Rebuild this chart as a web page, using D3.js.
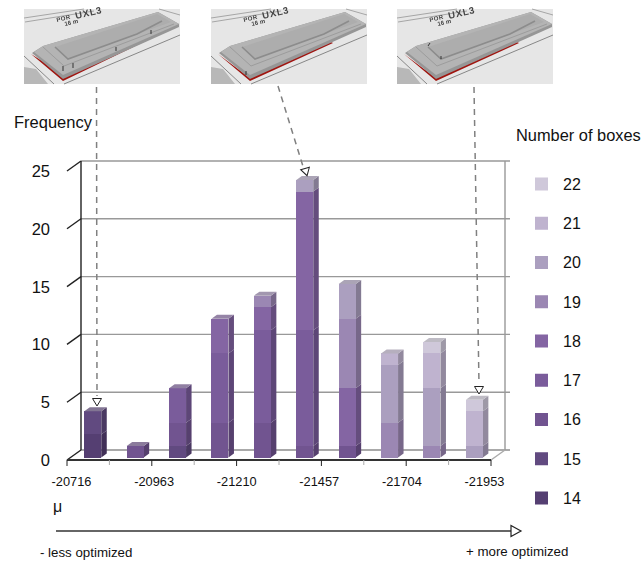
<!DOCTYPE html>
<html>
<head>
<meta charset="utf-8">
<script src="https://cdn.jsdelivr.net/npm/d3@7"></script>
<style>
  html, body { margin: 0; padding: 0; background: #fff; }
  text { font-family: "Liberation Sans", Arial, sans-serif; fill: #111; }
</style>
</head>
<body>
<svg id="chart" width="642" height="561"></svg>
<script>
// bins along the x axis, only every second one is labelled
const bins = d3.range(10);
const binLabels = ['-20716', '-20963', '-21210', '-21457', '-21704', '-21953'];
const freqTicks = [0, 5, 10, 15, 20, 25];
const boxCounts = [14, 15, 16, 17, 18, 19, 20, 21, 22];

// frequency per bin, one array per number of boxes
const box14 = [2, 0, 0, 0, 0, 0, 0, 0, 0, 0];
const box15 = [2, 0, 1, 0, 0, 0, 0, 0, 0, 0];
const box16 = [0, 1, 2, 3, 3, 1, 1, 0, 0, 0];
const box17 = [0, 0, 3, 6, 8, 10, 0, 0, 0, 0];
const box18 = [0, 0, 0, 3, 2, 12, 5, 0, 0, 0];
const box19 = [0, 0, 0, 0, 1, 0, 6, 3, 1, 0];
const box20 = [0, 0, 0, 0, 0, 1, 3, 5, 5, 1];
const box21 = [0, 0, 0, 0, 0, 0, 0, 1, 3, 3];
const box22 = [0, 0, 0, 0, 0, 0, 0, 0, 1, 1];
const boxSeries = [box14, box15, box16, box17, box18, box19, box20, box21, box22];

const boxColors = ['#553f72', '#614a80', '#715490', '#7a5c9b', '#8465a3', '#9b87b3', '#ab9fbf', '#bfb3cf', '#cfc8da'];

const svg = d3.select('#chart');
const color = d3.scaleOrdinal().domain(boxCounts).range(boxColors);

// 3d chart geometry: front plane, back wall and bar depth
const axisY = 460;
const wall = {dx: 14, dy: -10};
const barDepth = {dx: 5.5, dy: -4};

const x = d3.scaleBand().domain(bins).range([67, 491]).paddingInner(0.6).paddingOuter(0.3).align(0.68);
const yBack = d3.scaleLinear().domain([0, 25]).range([450, 161]);
const yBar = d3.scaleLinear().domain([0, 25]).range([457.5, 168.5]);

// walls and gridlines
const grid = svg.append('g');
grid.selectAll('line.grid')
  .data(freqTicks)
  .join('line')
    .attr('class', 'grid')
    .attr('x1', 67 + wall.dx)
    .attr('x2', 491 + wall.dx + 5)
    .attr('y1', d => yBack(d))
    .attr('y2', d => yBack(d))
    .attr('stroke', d => d === 0 ? '#aaa' : '#999')
    .attr('stroke-width', d => d === 0 ? 2 : 1.4);
grid.append('line')
  .attr('x1', 491 + wall.dx).attr('x2', 491 + wall.dx)
  .attr('y1', yBack(25)).attr('y2', yBack(0))
  .attr('stroke', '#999').attr('stroke-width', 1.4);
grid.append('line')
  .attr('x1', 491 + wall.dx).attr('x2', 491)
  .attr('y1', yBack(0)).attr('y2', axisY)
  .attr('stroke', '#aaa').attr('stroke-width', 1.4);

// frequency axis, ticks run diagonally to the back wall
grid.append('line')
  .attr('x1', 67 + wall.dx).attr('x2', 67 + wall.dx)
  .attr('y1', yBack(25)).attr('y2', yBack(0))
  .attr('stroke', '#222').attr('stroke-width', 1.4);
grid.selectAll('line.ftick')
  .data(freqTicks)
  .join('line')
    .attr('class', 'ftick')
    .attr('x1', 67).attr('x2', 67 + wall.dx)
    .attr('y1', d => yBack(d) - wall.dy).attr('y2', d => yBack(d))
    .attr('stroke', '#222').attr('stroke-width', 1.4);
grid.selectAll('text.flabel')
  .data(freqTicks)
  .join('text')
    .attr('class', 'flabel')
    .attr('x', 50)
    .attr('y', d => yBack(d) - wall.dy)
    .attr('dy', '0.36em')
    .attr('text-anchor', 'end')
    .style('font-size', '16.5px')
    .text(d => d);

// stacked 3d bars
const stacked = d3.stack().keys(d3.range(boxCounts.length)).value((row, k) => boxSeries[k][row])(bins);

const layers = svg.selectAll('g.layer')
  .data(stacked)
  .join('g')
    .attr('class', 'layer');

const visible = layer => layer.map((d, i) => ({bin: i, y0: d[0], y1: d[1], box: boxCounts[layer.key]})).filter(d => d.y1 > d.y0);

layers.selectAll('path.side')
  .data(visible)
  .join('path')
    .attr('class', 'side')
    .attr('d', d => {
      const xr = x(d.bin) + x.bandwidth();
      return `M${xr},${yBar(d.y0)}L${xr + barDepth.dx},${yBar(d.y0) + barDepth.dy}L${xr + barDepth.dx},${yBar(d.y1) + barDepth.dy}L${xr},${yBar(d.y1)}Z`;
    })
    .attr('fill', d => d3.color(color(d.box)).darker(0.75));

layers.selectAll('rect.front')
  .data(visible)
  .join('rect')
    .attr('class', 'front')
    .attr('x', d => x(d.bin))
    .attr('width', x.bandwidth())
    .attr('y', d => yBar(d.y1))
    .attr('height', d => yBar(d.y0) - yBar(d.y1))
    .attr('shape-rendering', 'crispEdges')
    .attr('fill', d => color(d.box));

// cap on top of every bar
svg.append('g').selectAll('path')
  .data(bins)
  .join('path')
    .attr('d', b => {
      const top = yBar(d3.sum(boxSeries, s => s[b]));
      const xl = x(b), xr = xl + x.bandwidth();
      return `M${xl},${top}L${xl + barDepth.dx},${top + barDepth.dy}L${xr + barDepth.dx},${top + barDepth.dy}L${xr},${top}Z`;
    })
    .attr('fill', b => {
      const topBox = boxSeries.reduce((acc, s, k) => s[b] > 0 ? k : acc, 0);
      return d3.interpolateRgb(boxColors[topBox], '#aaa')(0.45);
    });

// x axis: long dark ticks on labelled bins, short grey ones in between
const xEdge = d3.scaleLinear().domain([0, 10]).range([67, 491]);
const xAxis = svg.append('g').attr('transform', `translate(0,${axisY})`);
xAxis.append('line').attr('x1', 67).attr('x2', 491).attr('stroke', '#333').attr('stroke-width', 2);
xAxis.selectAll('line.tick')
  .data(d3.range(11))
  .join('line')
    .attr('class', 'tick')
    .attr('x1', d => xEdge(d)).attr('x2', d => xEdge(d))
    .attr('y1', 0)
    .attr('y2', d => d % 2 === 0 ? 6 : 5)
    .attr('stroke', d => d % 2 === 0 ? '#222' : '#aaa')
    .attr('stroke-width', 1);

const xLabel = d3.scalePoint().domain(binLabels).range([71.5, 484.5]);
xAxis.selectAll('text')
  .data(binLabels)
  .join('text')
    .attr('x', d => xLabel(d))
    .attr('y', 21)
    .attr('dy', '0.36em')
    .attr('text-anchor', 'middle')
    .style('font-size', '12.8px')
    .text(d => d);

// legend
const legendY = d3.scalePoint().domain(boxCounts.slice().reverse()).range([184, 498]);
const legend = svg.append('g').selectAll('g')
  .data(boxCounts)
  .join('g')
    .attr('transform', d => `translate(535,${legendY(d)})`);
legend.append('rect')
  .attr('y', -6.5).attr('width', 13).attr('height', 13)
  .attr('fill', d => color(d));
legend.append('text')
  .attr('x', 28)
  .attr('dy', '0.36em')
  .style('font-size', '16px')
  .text(d => d);

// titles and notes
const notes = [
  ['Frequency', 14, 122, 16.5],
  ['Number of boxes', 516, 135, 16.4],
  ['μ', 53, 506, 16],
  ['- less optimized', 40, 552, 13.3],
  ['+ more optimized', 466, 551, 13.3]
];
svg.append('g').selectAll('text')
  .data(notes)
  .join('text')
    .attr('x', d => d[1])
    .attr('y', d => d[2])
    .attr('dy', '0.36em')
    .style('font-size', d => d[3] + 'px')
    .text(d => d[0]);

// direction arrow under the axis
const arrow = svg.append('g');
arrow.append('line').attr('x1', 56).attr('x2', 511).attr('y1', 531).attr('y2', 531).attr('stroke', '#333').attr('stroke-width', 1.3);
arrow.append('path').attr('d', 'M511,525.5L521,531L511,536.5Z').attr('fill', '#fff').attr('stroke', '#222').attr('stroke-width', 1.2);

// thumbnails of the three solutions
svg.append('defs').append('filter').attr('id', 'soft')
  .append('feGaussianBlur').attr('stdDeviation', 0.6);

const thumbs = [
  {x: 24, y: 9, red: 'wide', marks: 'M39,57V62M49,54V59M92,38V42M127,21V25'},
  {x: 211, y: 9, red: 'thin', marks: 'M35,62V66'},
  {x: 397, y: 9, red: 'thin', marks: 'M31,37L33,34M44,47V50'}
];
const thumb = svg.append('g').selectAll('g')
  .data(thumbs)
  .join('g')
    .attr('transform', d => `translate(${d.x},${d.y})`)
    .attr('filter', 'url(#soft)');

thumb.append('rect').attr('width', 156).attr('height', 75).attr('fill', '#e6e6e6');
thumb.append('path').attr('d', 'M0,58L12,60L24,75L0,75Z').attr('fill', '#b8b8b8');
thumb.append('path').attr('d', 'M0,9L60,0M1,13L70,2M135,0L156,6').attr('stroke', '#8a8a8a').attr('stroke-width', 0.7).attr('fill', 'none');
thumb.append('path').attr('d', 'M0,47L30,75M40,75L156,26').attr('stroke', '#6f6f6f').attr('stroke-width', 0.8).attr('fill', 'none');
// red ground strip
thumb.append('path')
  .attr('d', d => d.red === 'wide' ? 'M7,45L39,72L132,27L128,25L50,58L34,62Z' : 'M7,45L39,72L122,34L120,33L39,69Z')
  .attr('fill', '#a01410');
// building: side faces, roof and steps
thumb.append('path').attr('d', 'M8,44L39,70L155,18L155,15L134,3L19,37Z').attr('fill', '#969696');
thumb.append('path').attr('d', 'M10,43L19,37L134,3L155,15L39,66Z').attr('fill', '#b4b4b4');
thumb.append('path').attr('d', 'M31,38L133,5L147,13L44,50Z').attr('fill', '#adadad');
thumb.append('path').attr('d', 'M19,38L40,57L150,15').attr('stroke', '#9c9c9c').attr('stroke-width', 1).attr('fill', 'none');
thumb.append('path').attr('d', 'M31,38L44,50L113,25L138,12').attr('stroke', '#8c8c8c').attr('stroke-width', 1.6).attr('fill', 'none');
thumb.append('path').attr('d', d => d.marks).attr('stroke', '#111').attr('stroke-width', 0.8).attr('fill', 'none');
thumb.append('text')
  .attr('transform', 'translate(33,13) rotate(-13)')
  .style('font-size', '6px').style('font-weight', 'bold').style('fill', '#444').style('letter-spacing', '0.4px')
  .text('POR');
thumb.append('text')
  .attr('transform', 'translate(52,10) rotate(-13)')
  .style('font-size', '9.5px').style('font-weight', 'bold').style('fill', '#444').style('letter-spacing', '0.8px')
  .text('UXL3');
thumb.append('text')
  .attr('transform', 'translate(41,17) rotate(-13)')
  .style('font-size', '6px').style('font-weight', 'bold').style('fill', '#444')
  .text('16 m');

// dashed leader lines from thumbnails to the bars
const leaders = [
  {x1: 96.5, y1: 87, x2: 97, y2: 396, tip: [97, 398.5], rot: 0},
  {x1: 278, y1: 86, x2: 303.5, y2: 168, tip: [305, 168.5], rot: -16},
  {x1: 474, y1: 87, x2: 479, y2: 384, tip: [479, 386.5], rot: 0}
];
const leader = svg.append('g').selectAll('g').data(leaders).join('g');
leader.append('line')
  .attr('x1', d => d.x1).attr('y1', d => d.y1)
  .attr('x2', d => d.x2).attr('y2', d => d.y2)
  .attr('stroke', '#808080').attr('stroke-width', 1.5).attr('stroke-dasharray', '6,5');
leader.append('path')
  .attr('transform', d => `translate(${d.tip[0]},${d.tip[1]}) rotate(${d.rot})`)
  .attr('d', 'M-4.5,0L4.5,0L0,7.5Z')
  .attr('fill', '#fff').attr('stroke', '#222').attr('stroke-width', 1);
</script>
</body>
</html>
